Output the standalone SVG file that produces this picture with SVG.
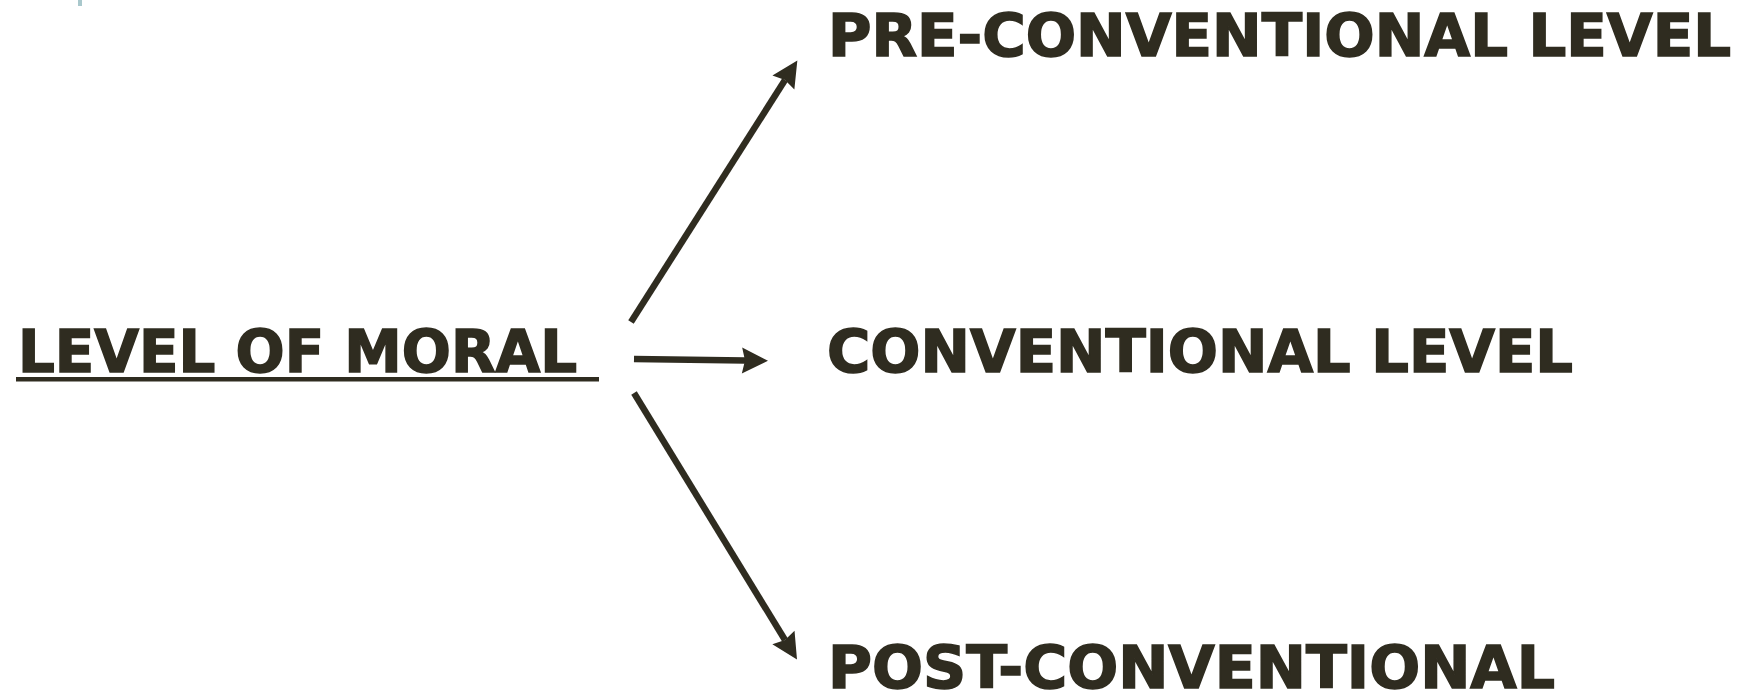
<svg xmlns="http://www.w3.org/2000/svg" width="1745" height="694" viewBox="0 0 1745 694">
<style>
.t{font-family:"DejaVu Sans","Verdana",sans-serif;font-weight:bold;font-size:59px;fill:#2f2c20;stroke:#2f2c20;stroke-width:1.6;stroke-linejoin:miter}
.c{stroke:#2f2c20;stroke-width:6.5;fill:none}
</style>
<defs>
<marker id="ah" markerUnits="userSpaceOnUse" markerWidth="28" markerHeight="26" refX="3" refY="13" orient="auto" overflow="visible">
<path d="M0,0 L26,13 L0,26 L3,13 Z" fill="#2f2c20"/>
</marker>
</defs>
<rect x="78" y="0" width="4" height="6" fill="#a9c8cc"/>
<g id="source">
<text class="t" x="18" y="372" textLength="559" lengthAdjust="spacingAndGlyphs">LEVEL OF MORAL</text>
<rect x="16" y="377" width="583" height="4.5" fill="#2f2c20"/>
</g>
<g id="pre">
<text class="t" x="828" y="56" textLength="903" lengthAdjust="spacingAndGlyphs">PRE-CONVENTIONAL LEVEL</text>
</g>
<g id="conv">
<text class="t" x="827" y="372" textLength="746" lengthAdjust="spacingAndGlyphs">CONVENTIONAL LEVEL</text>
</g>
<g id="post">
<text class="t" x="828" y="688" textLength="727" lengthAdjust="spacingAndGlyphs">POST-CONVENTIONAL</text>
</g>
<g id="connectors">
<line class="c" x1="631" y1="322" x2="785" y2="80" marker-end="url(#ah)"/>
<line class="c" x1="634" y1="359" x2="745" y2="360.5" marker-end="url(#ah)"/>
<line class="c" x1="634" y1="393" x2="785" y2="640" marker-end="url(#ah)"/>
</g>
</svg>
